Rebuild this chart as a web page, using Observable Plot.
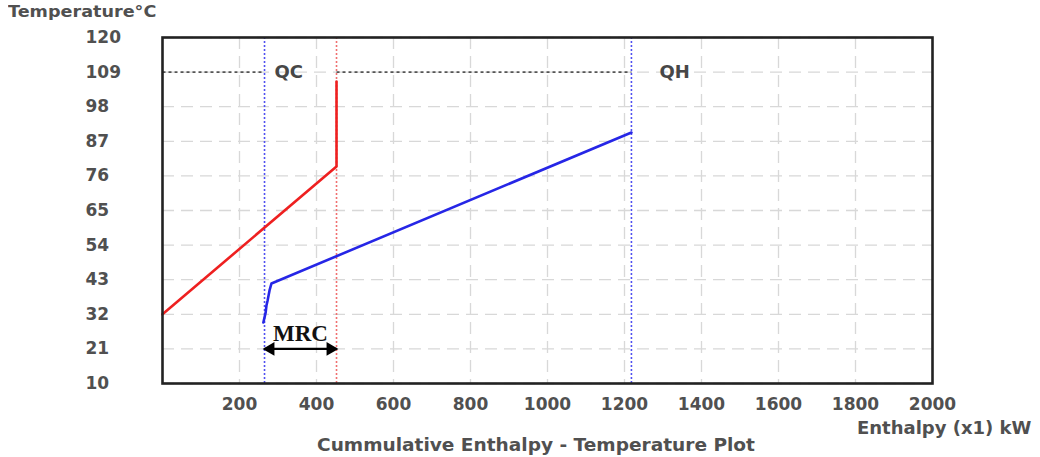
<!DOCTYPE html>
<html><head><meta charset="utf-8">
<script src="https://cdn.jsdelivr.net/npm/d3@7"></script>
<script src="https://cdn.jsdelivr.net/npm/@observablehq/plot@0.6"></script>
<style>
body{margin:0;background:#fff;}
#wrap{position:relative;width:1040px;height:457px;overflow:hidden;}
.lbl{position:absolute;font-family:"DejaVu Sans",sans-serif;font-weight:bold;color:#505050;white-space:nowrap;line-height:1;}
</style></head><body>
<div id="wrap"></div>
<script>
// ---- data ----
const redEnthalpy = [0, 452, 452];
const redTemp = [32, 79, 106];
const blueEnthalpy = [262, 268, 270, 273, 278, 283, 1218];
const blueTemp = [29.4, 32.6, 34.8, 36.4, 39.6, 41.8, 89.8];
const xTicks = [200, 400, 600, 800, 1000, 1200, 1400, 1600, 1800, 2000];
const yTicks = [10, 21, 32, 43, 54, 65, 76, 87, 98, 109, 120];
const qcEnthalpy = 265;     // left limit (cold utility)
const mrcEnthalpy = 452;    // right limit of MRC
const qhEnthalpy = 1218;    // hot utility limit
const targetTemp = 109;
const mrcTemp = 21;
const labels = ["QC", "QH", "MRC"];

// ---- tables built from the arrays ----
const red = redEnthalpy.map((h, i) => ({h, t: redTemp[i]}));
const blue = blueEnthalpy.map((h, i) => ({h, t: blueTemp[i]}));
const dotted = [{x1: 0, x2: qcEnthalpy, y: targetTemp}, {x1: mrcEnthalpy, x2: qhEnthalpy, y: targetTemp}];
const mrc = [{x1: qcEnthalpy, x2: mrcEnthalpy, y: mrcTemp}];

const blueC = "#2626e6", redC = "#ee2020";

const plot = Plot.plot({
  width: 1040, height: 457,
  marginLeft: 162, marginRight: 108, marginTop: 37, marginBottom: 74,
  style: {fontFamily: "DejaVu Sans, sans-serif", fontWeight: "bold", color: "#505050", background: "transparent"},
  x: {domain: [0, 2000]},
  y: {domain: [10, 120]},
  marks: [
    Plot.gridX(xTicks, {stroke: "#d8d8d8", strokeOpacity: 1, strokeWidth: 1.3, strokeDasharray: "12,7"}),
    Plot.gridY(yTicks, {stroke: "#d8d8d8", strokeOpacity: 1, strokeWidth: 1.3, strokeDasharray: "12,7"}),
    Plot.link(dotted, {x1: "x1", x2: "x2", y1: "y", y2: "y", stroke: "#555", strokeWidth: 1.6, strokeDasharray: "3,3"}),
    Plot.ruleX([qcEnthalpy], {stroke: "#5050f0", strokeWidth: 1.6, strokeDasharray: "2,2"}),
    Plot.ruleX([mrcEnthalpy], {stroke: "#f07070", strokeWidth: 1.6, strokeDasharray: "2,2"}),
    Plot.ruleX([qhEnthalpy], {stroke: "#5050f0", strokeWidth: 1.6, strokeDasharray: "2,2"}),
    Plot.line(red, {x: "h", y: "t", stroke: redC, strokeWidth: 2.6}),
    Plot.line(blue, {x: "h", y: "t", stroke: blueC, strokeWidth: 2.6}),
    Plot.text([{x: qcEnthalpy, y: targetTemp, s: labels[0]}], {x: "x", y: "y", text: "s", dx: 10, textAnchor: "start", fontSize: 18, fill: "#474747"}),
    Plot.text([{x: qhEnthalpy, y: targetTemp, s: labels[1]}], {x: "x", y: "y", text: "s", dx: 28, textAnchor: "start", fontSize: 18, fill: "#474747"}),
    Plot.link(mrc, {x1: "x1", x2: "x2", y1: "y", y2: "y", stroke: "#000", strokeWidth: 2.2, insetLeft: 6, insetRight: 6}),
    Plot.dot(mrc, {x: "x1", y: "y", symbol: "triangle2", r: 6.5, fill: "#000", rotate: -90, dx: 6}),
    Plot.dot(mrc, {x: "x2", y: "y", symbol: "triangle2", r: 6.5, fill: "#000", rotate: 90, dx: -6}),
    Plot.text(mrc, {x: d => (d.x1 + d.x2) / 2, y: "y", text: () => labels[2], dy: -15, fontFamily: "Liberation Serif, serif", fontWeight: "bold", fontSize: 23, fill: "#111"}),
    Plot.frame({stroke: "#222", strokeWidth: 2.6}),
    Plot.axisX(xTicks, {tickSize: 0, tickPadding: 14, fontSize: 17, label: null, tickFormat: d => String(d)}),
    Plot.axisY(yTicks, {tickSize: 0, tickPadding: 77, textAnchor: "start", fontSize: 17, label: null, tickFormat: d => String(d)})
  ]
});
const wrap = document.getElementById("wrap");
wrap.appendChild(plot);

function addLabel(text, css) {
  const d = document.createElement("div");
  d.className = "lbl";
  d.textContent = text;
  Object.assign(d.style, css);
  wrap.appendChild(d);
}
addLabel("Temperature°C", {left: "8px", top: "4px", fontSize: "16px", transform: "scaleX(1.1)", transformOrigin: "left center"});
addLabel("Enthalpy (x1) kW", {left: "857px", top: "419px", fontSize: "18px"});
addLabel("Cummulative Enthalpy - Temperature Plot", {left: "536px", top: "436px", fontSize: "18px", transform: "translateX(-50%) scaleX(1.03)"});
</script>
</body></html>
